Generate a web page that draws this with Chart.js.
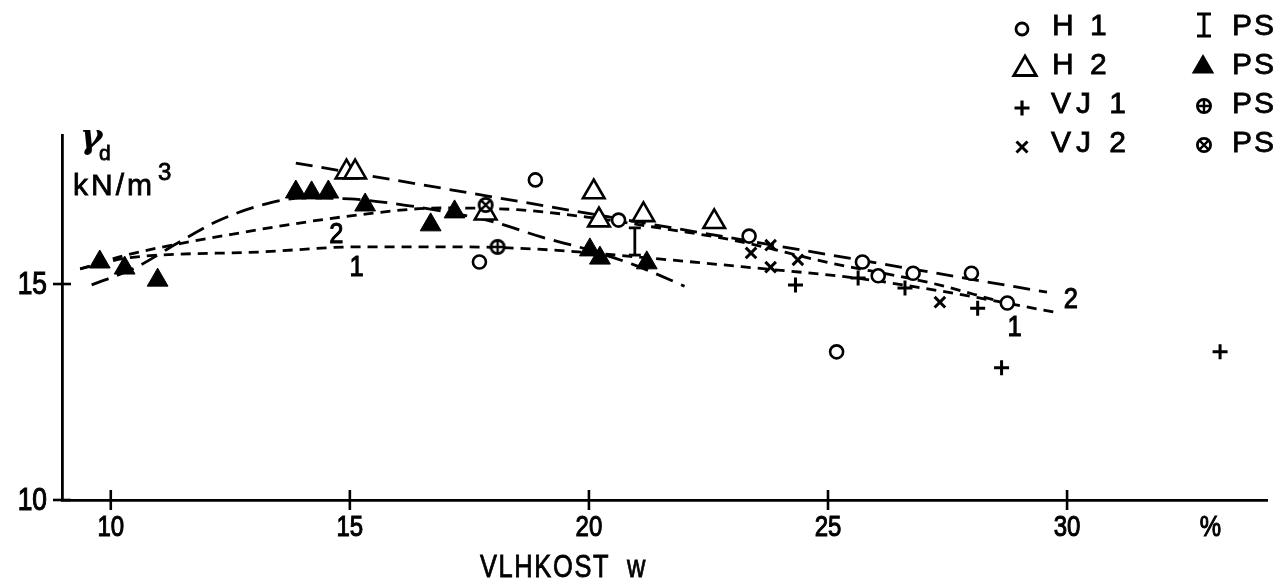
<!DOCTYPE html>
<html><head><meta charset="utf-8">
<script src="https://cdn.jsdelivr.net/npm/chart.js@4.4.1/dist/chart.umd.min.js"></script>
<style>
html,body{margin:0;padding:0;background:#fff;}
#wrap{position:relative;width:1283px;height:584px;overflow:hidden;background:#fff;}
canvas{position:absolute;left:0;top:0;}
.t{position:absolute;font-family:'Liberation Sans',Arial,sans-serif;color:#000;white-space:pre;line-height:1;-webkit-text-stroke:0.8px #000;}
.n{transform:scaleX(0.82);transform-origin:0 0;}
</style></head><body>
<div id="wrap">
<canvas id="c" width="1283" height="584"></canvas>
<div class="t" style="left:80px;top:119px;font-size:34px;font-weight:bold;font-style:italic;font-family:'DejaVu Serif',serif;-webkit-text-stroke:0;">γ</div>
<div class="t" style="left:99px;top:142px;font-size:21px;">d</div>
<div class="t" style="left:73px;top:170px;font-size:30px;letter-spacing:3px;">kN/m</div>
<div class="t" style="left:158px;top:160px;font-size:24px;">3</div>
<div class="t n" style="left:480px;top:551px;font-size:31px;letter-spacing:2px;">VLHKOST  w</div>
<div class="t" style="left:1052px;top:10px;font-size:30px;letter-spacing:4px;">H 1</div>
<div class="t" style="left:1052px;top:49px;font-size:30px;letter-spacing:4px;">H 2</div>
<div class="t" style="left:1051px;top:88px;font-size:30px;letter-spacing:5px;">VJ 1</div>
<div class="t" style="left:1051px;top:127px;font-size:30px;letter-spacing:5px;">VJ 2</div>
<div class="t" style="left:1232px;top:10px;font-size:30px;letter-spacing:2px;">PS</div>
<div class="t" style="left:1232px;top:49px;font-size:30px;letter-spacing:2px;">PS</div>
<div class="t" style="left:1232px;top:88px;font-size:30px;letter-spacing:2px;">PS</div>
<div class="t" style="left:1232px;top:127px;font-size:30px;letter-spacing:2px;">PS</div>
</div>
<script>
// ---- data ----
const xTickVals = [10, 15, 20, 25, 30, 33];
const xTickLabels = ['10', '15', '20', '25', '30', '%'];
const yTickVals = [10, 15];
const yTickLabels = ['10', '15'];

const h1X = [17.71, 18.88, 20.62, 23.35, 25.18, 25.72, 26.05, 26.78, 28.0, 28.75];
const h1Y = [15.51, 17.41, 16.48, 16.11, 13.43, 15.51, 15.19, 15.25, 15.25, 14.56];
const h2X = [14.93, 15.11, 17.84, 20.1, 20.21, 21.14, 22.62];
const h2Y = [17.59, 17.59, 16.64, 17.13, 16.48, 16.6, 16.44];
const vj1X = [24.32, 25.63, 26.61, 28.13, 28.63, 33.2];
const vj1Y = [14.98, 15.14, 14.91, 14.44, 13.06, 13.43];
const vj2X = [23.39, 23.8, 23.8, 24.37, 27.34];
const vj2Y = [15.72, 15.9, 15.39, 15.56, 14.58];
const psTriX = [9.77, 10.29, 10.98, 13.87, 14.2, 14.55, 15.32, 16.69, 17.19, 20.02, 20.23, 21.21];
const psTriY = [15.51, 15.37, 15.09, 17.13, 17.11, 17.13, 16.83, 16.37, 16.67, 15.79, 15.6, 15.49];
const psPlusX = [18.09];
const psPlusY = [15.86];
const psRotX = [17.84];
const psRotY = [16.83];
const psRangeX = [20.96, 20.96];
const psRangeY = [16.3, 15.67];

const curvePX = [9.6, 10.5, 11.4, 12.2, 13.1, 14.0, 15.0, 16.0, 17.0, 18.0, 19.0, 20.0, 21.0, 22.0];
const curvePY = [14.98, 15.37, 15.95, 16.44, 16.81, 16.99, 16.97, 16.85, 16.67, 16.44, 16.09, 15.79, 15.42, 14.95];
const curve1X = [9.36, 10.33, 13.1, 15.18, 17.26, 19.19, 21.27, 23.49, 25.57, 27.34, 29.73];
const curve1Y = [15.35, 15.6, 15.74, 15.86, 15.86, 15.79, 15.6, 15.37, 15.14, 14.84, 14.35];
const curve2X = [9.36, 10.33, 12.68, 15.18, 16.9, 18.5, 19.96, 21.35, 23.08, 25.0, 27.17, 28.48];
const curve2Y = [15.35, 15.67, 16.18, 16.6, 16.76, 16.72, 16.55, 16.32, 16.0, 15.5, 15.02, 14.63];
const lineAX = [13.87, 29.58];
const lineAY = [17.8, 14.81];

const curveLabelText = ['2', '1', '2', '1'];
const curveLabelX = [14.72, 15.14, 30.08, 28.9];
const curveLabelY = [16.13, 15.37, 14.63, 13.98];

// ---- helpers ----
const pts = (xs, ys) => xs.map((x, i) => ({x: x, y: ys[i]}));
function symCanvas(kind) {
  const c = document.createElement('canvas');
  c.width = 18; c.height = 18;
  const g = c.getContext('2d');
  g.fillStyle = '#fff';
  g.beginPath(); g.arc(9, 9, 7, 0, Math.PI * 2); g.fill();
  g.strokeStyle = '#000'; g.lineWidth = 2.8;
  g.beginPath(); g.arc(9, 9, 6.6, 0, Math.PI * 2); g.stroke();
  g.lineWidth = 2.4;
  g.beginPath();
  if (kind === 'plus') { g.moveTo(2.5, 9); g.lineTo(15.5, 9); g.moveTo(9, 2.5); g.lineTo(9, 15.5); }
  else { g.moveTo(4.4, 4.4); g.lineTo(13.6, 13.6); g.moveTo(13.6, 4.4); g.lineTo(4.4, 13.6); }
  g.stroke();
  return c;
}
const plusImg = symCanvas('plus');
const rotImg = symCanvas('rot');
const FONT = "'Liberation Sans',Arial,sans-serif";

function condText(ctx, text, x, y, size, align, sx) {
  ctx.save();
  ctx.translate(x, y);
  ctx.scale(sx, 1);
  ctx.fillStyle = '#000';
  ctx.strokeStyle = '#000';
  ctx.lineWidth = 1.1;
  ctx.font = size + 'px ' + FONT;
  ctx.textAlign = align;
  ctx.textBaseline = 'middle';
  ctx.fillText(text, 0, 0);
  ctx.strokeText(text, 0, 0);
  ctx.restore();
}

function drawSym(ctx, kind, x, y) {
  ctx.save();
  ctx.strokeStyle = '#000'; ctx.fillStyle = '#000'; ctx.lineWidth = 2.8;
  ctx.beginPath();
  if (kind === 'circle') { ctx.arc(x, y, 6, 0, Math.PI * 2); ctx.stroke(); }
  else if (kind === 'tri' || kind === 'trif') {
    const r = 13;
    ctx.moveTo(x, y - r); ctx.lineTo(x + r * 0.866, y + r * 0.5); ctx.lineTo(x - r * 0.866, y + r * 0.5); ctx.closePath();
    if (kind === 'trif') ctx.fill(); else ctx.stroke();
  }
  else if (kind === 'cross') { ctx.lineWidth = 3.2; ctx.moveTo(x - 7.5, y); ctx.lineTo(x + 7.5, y); ctx.moveTo(x, y - 7.5); ctx.lineTo(x, y + 7.5); ctx.stroke(); }
  else if (kind === 'crossRot') { ctx.lineWidth = 3; ctx.moveTo(x - 5.5, y - 5.5); ctx.lineTo(x + 5.5, y + 5.5); ctx.moveTo(x + 5.5, y - 5.5); ctx.lineTo(x - 5.5, y + 5.5); ctx.stroke(); }
  else if (kind === 'ibar') { ctx.lineWidth = 3; ctx.moveTo(x, y - 11); ctx.lineTo(x, y + 11); ctx.moveTo(x - 7, y - 11); ctx.lineTo(x + 7, y - 11); ctx.moveTo(x - 7, y + 11); ctx.lineTo(x + 7, y + 11); ctx.stroke(); }
  else if (kind === 'plusImg') { ctx.drawImage(plusImg, x - 9, y - 9); }
  else if (kind === 'rotImg') { ctx.drawImage(rotImg, x - 9, y - 9); }
  ctx.restore();
}

const decor = {
  id: 'decor',
  afterDraw(chart) {
    const ctx = chart.ctx, xs = chart.scales.x, ys = chart.scales.y;
    ctx.save();
    ctx.strokeStyle = '#000'; ctx.lineWidth = 2.6;
    // crossing tick marks and tick labels
    xTickVals.forEach((v, i) => {
      const px = xs.getPixelForValue(v);
      if (xTickLabels[i] !== '%') {
        ctx.beginPath(); ctx.moveTo(px, ys.bottom - 10); ctx.lineTo(px, ys.bottom + 10); ctx.stroke();
      }
      condText(ctx, xTickLabels[i], px, ys.bottom + 28, 30, 'center', 0.8);
    });
    yTickVals.forEach((v, i) => {
      const py = ys.getPixelForValue(v);
      ctx.beginPath(); ctx.moveTo(xs.left - 9, py); ctx.lineTo(xs.left + 9, py); ctx.stroke();
      condText(ctx, yTickLabels[i], xs.left - 15, py + 1, 31, 'right', 0.85);
    });
    // curve numbers
    curveLabelText.forEach((t, i) => {
      condText(ctx, t, xs.getPixelForValue(curveLabelX[i]), ys.getPixelForValue(curveLabelY[i]), 30, 'center', 0.85);
    });
    ctx.restore();
    // legend symbols
    drawSym(ctx, 'circle', 1022, 29);
    drawSym(ctx, 'tri', 1025, 69);
    drawSym(ctx, 'cross', 1022, 108);
    drawSym(ctx, 'crossRot', 1022, 147);
    drawSym(ctx, 'ibar', 1204, 25);
    drawSym(ctx, 'trif', 1203, 67);
    drawSym(ctx, 'plusImg', 1204, 106);
    drawSym(ctx, 'rotImg', 1204, 145);
  }
};

const lineBase = {showLine: true, pointRadius: 0, borderColor: '#000', borderWidth: 2.8, fill: false, order: 10};

new Chart(document.getElementById('c'), {
  type: 'scatter',
  data: {
    datasets: [
      {label: 'H 1', data: pts(h1X, h1Y), pointStyle: 'circle', pointRadius: 6.5, borderWidth: 2.6, borderColor: '#000', backgroundColor: '#fff', order: 1},
      {label: 'H 2', data: pts(h2X, h2Y), pointStyle: 'triangle', pointRadius: 12.5, borderWidth: 2.6, borderColor: '#000', backgroundColor: '#fff', order: 2},
      {label: 'VJ 1', data: pts(vj1X, vj1Y), pointStyle: 'cross', pointRadius: 7.5, borderWidth: 3, borderColor: '#000', backgroundColor: '#000', order: 1},
      {label: 'VJ 2', data: pts(vj2X, vj2Y), pointStyle: 'crossRot', pointRadius: 7.5, borderWidth: 3, borderColor: '#000', backgroundColor: '#000', order: 1},
      {label: 'PS', data: pts(psTriX, psTriY), pointStyle: 'triangle', pointRadius: 12, borderWidth: 1, borderColor: '#000', backgroundColor: '#000', order: 2},
      {label: 'PS plus', data: pts(psPlusX, psPlusY), pointStyle: plusImg, pointRadius: 9, order: 0},
      {label: 'PS rot', data: pts(psRotX, psRotY), pointStyle: rotImg, pointRadius: 9, order: 0},
      {label: 'PS range', data: pts(psRangeX, psRangeY), showLine: true, pointStyle: 'line', pointRadius: 6, borderWidth: 2.8, borderColor: '#000', backgroundColor: '#000', order: 3},
      Object.assign({label: 'curve P', data: pts(curvePX, curvePY), borderDash: [18, 9], cubicInterpolationMode: 'monotone'}, lineBase),
      Object.assign({label: 'curve 1', data: pts(curve1X, curve1Y), borderDash: [10, 7], cubicInterpolationMode: 'monotone'}, lineBase),
      Object.assign({label: 'curve 2', data: pts(curve2X, curve2Y), borderDash: [10, 7], cubicInterpolationMode: 'monotone'}, lineBase),
      Object.assign({label: 'line A', data: pts(lineAX, lineAY), borderDash: [17, 9], tension: 0}, lineBase)
    ]
  },
  options: {
    responsive: false,
    animation: false,
    events: [],
    layout: {padding: {top: 135, right: 8, left: 0, bottom: 0}},
    plugins: {legend: {display: false}, tooltip: {enabled: false}},
    scales: {
      x: {
        type: 'linear', min: 8.98, max: 34.2,
        afterBuildTicks: s => { s.ticks = xTickVals.map(v => ({value: v})); },
        afterFit: s => { s.height = 84; },
        grid: {display: false},
        border: {display: true, color: '#000', width: 2.8},
        ticks: {display: false}
      },
      y: {
        type: 'linear', min: 10, max: 18.45,
        afterBuildTicks: s => { s.ticks = yTickVals.map(v => ({value: v})); },
        afterFit: s => { s.width = 62; },
        grid: {display: false},
        border: {display: true, color: '#000', width: 2.8},
        ticks: {display: false}
      }
    }
  },
  plugins: [decor]
});
</script>
</body></html>
